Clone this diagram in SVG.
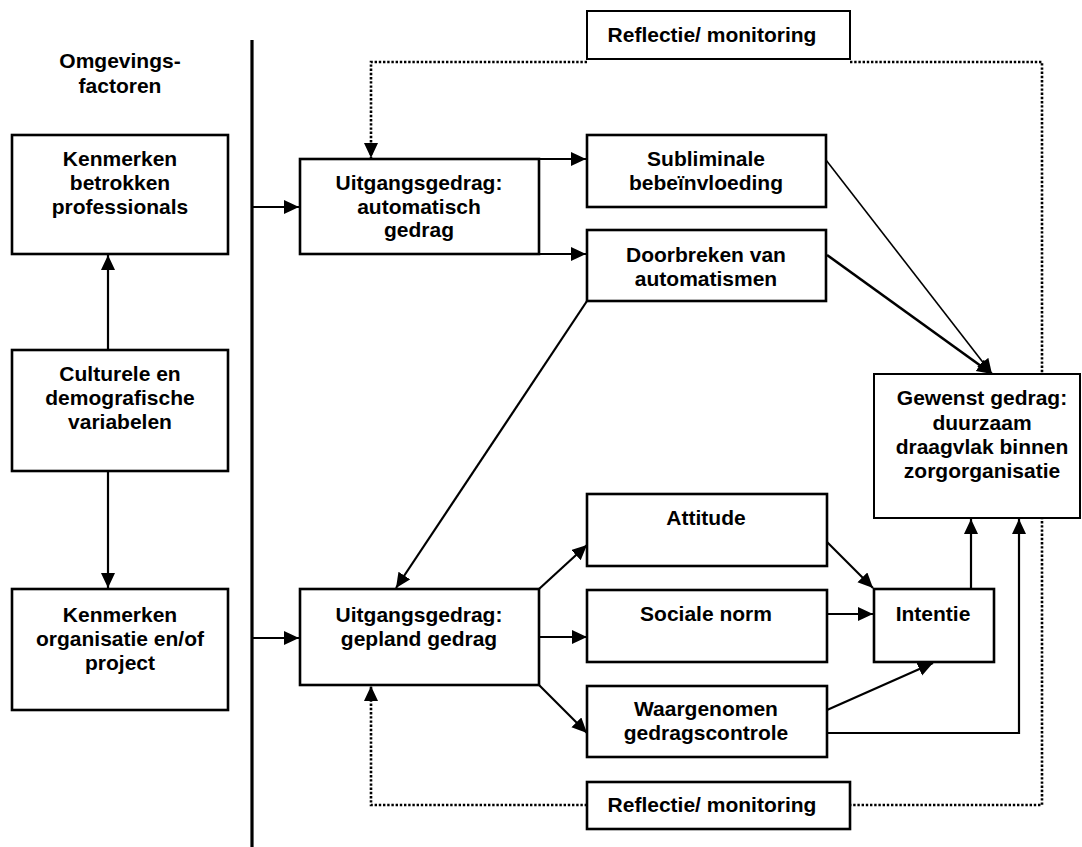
<svg xmlns="http://www.w3.org/2000/svg" width="1082" height="847" viewBox="0 0 1082 847">
<style>
.box{fill:#fff;stroke:#000;stroke-width:2.6}
.thin{fill:#fff;stroke:#000;stroke-width:2}
.t{font-family:"Liberation Sans",Arial,sans-serif;font-weight:bold;font-size:21px;fill:#000;text-anchor:middle}
.c{fill:none;stroke:#000;stroke-width:2.2}
.d{fill:none;stroke:#000;stroke-width:2.6;stroke-dasharray:2.4 1.8}
</style>
<defs>
<marker id="ah" markerUnits="userSpaceOnUse" markerWidth="16" markerHeight="15" refX="15" refY="7" orient="auto">
<path d="M0,0 L15,7 L0,14 z" fill="#000"/>
</marker>
</defs>
<rect width="1082" height="847" fill="#fff"/>
<g id="divider"><line x1="252" y1="40" x2="252" y2="847" stroke="#000" stroke-width="3.2"/></g>
<g id="title"><text class="t" x="120" y="68">Omgevings-</text><text class="t" x="120" y="93">factoren</text></g>
<g id="connectors">
<path class="c" d="M108,350 L108,255" marker-end="url(#ah)"/>
<path class="c" d="M108,471 L108,588" marker-end="url(#ah)"/>
<path class="c" d="M253,207 L299,207" marker-end="url(#ah)"/>
<path class="c" d="M253,638 L299,638" marker-end="url(#ah)"/>
<path class="c" d="M539,159 L586,159" marker-end="url(#ah)"/>
<path class="c" d="M539,254 L586,254" marker-end="url(#ah)"/>
<path fill="none" stroke="#000" stroke-width="1.6" d="M826,160 L992,374" marker-end="url(#ah)"/>
<path fill="none" stroke="#000" stroke-width="2.6" d="M827,255 L992,374" marker-end="url(#ah)"/>
<path class="c" d="M587,301 L396,588" marker-end="url(#ah)"/>
<path class="c" d="M539,589 L587,545" marker-end="url(#ah)"/>
<path class="c" d="M539,637 L587,637" marker-end="url(#ah)"/>
<path class="c" d="M539,685 L587,733" marker-end="url(#ah)"/>
<path class="c" d="M827,542 L873,588" marker-end="url(#ah)"/>
<path class="c" d="M827,614 L873,614" marker-end="url(#ah)"/>
<path class="c" d="M827,710 L933,663" marker-end="url(#ah)"/>
<path class="c" d="M971,589 L971,519" marker-end="url(#ah)"/>
<path class="c" d="M827,733 L1019,733 L1019,519" marker-end="url(#ah)"/>
<path class="d" d="M587,62 L371,62 L371,158" marker-end="url(#ah)"/>
<path class="d" d="M850,62 L1042,62 L1042,805 L850,805"/>
<path class="d" d="M587,805 L371,805 L371,686" marker-end="url(#ah)"/>
</g>
<g id="kenmerken-professionals"><rect class="box" x="12" y="135" width="216" height="119"/>
<text class="t" x="120" y="166">Kenmerken</text><text class="t" x="120" y="190">betrokken</text><text class="t" x="120" y="214">professionals</text></g>
<g id="culturele"><rect class="box" x="12" y="350" width="216" height="121"/>
<text class="t" x="120" y="381">Culturele en</text><text class="t" x="120" y="405">demografische</text><text class="t" x="120" y="429">variabelen</text></g>
<g id="kenmerken-organisatie"><rect class="box" x="12" y="589" width="216" height="121"/>
<text class="t" x="120" y="622">Kenmerken</text><text class="t" x="120" y="646">organisatie en/of</text><text class="t" x="120" y="670">project</text></g>
<g id="automatisch"><rect class="box" x="300" y="159" width="239" height="95"/>
<text class="t" x="419" y="190">Uitgangsgedrag:</text><text class="t" x="419" y="214">automatisch</text><text class="t" x="419" y="237">gedrag</text></g>
<g id="gepland"><rect class="box" x="300" y="589" width="239" height="96"/>
<text class="t" x="419" y="622">Uitgangsgedrag:</text><text class="t" x="419" y="646">gepland gedrag</text></g>
<g id="reflectie-top"><rect class="thin" x="587" y="11" width="263" height="48"/>
<text class="t" x="712" y="42">Reflectie/ monitoring</text></g>
<g id="reflectie-bottom"><rect class="box" x="587" y="782" width="263" height="47"/>
<text class="t" x="712" y="812">Reflectie/ monitoring</text></g>
<g id="subliminale"><rect class="box" x="587" y="135" width="239" height="72"/>
<text class="t" x="706" y="166">Subliminale</text><text class="t" x="706" y="190">bebeïnvloeding</text></g>
<g id="doorbreken"><rect class="box" x="587" y="230" width="239" height="71"/>
<text class="t" x="706" y="262">Doorbreken van</text><text class="t" x="706" y="286">automatismen</text></g>
<g id="attitude"><rect class="box" x="587" y="494" width="240" height="72"/>
<text class="t" x="706" y="525">Attitude</text></g>
<g id="sociale-norm"><rect class="box" x="587" y="590" width="240" height="72"/>
<text class="t" x="706" y="621">Sociale norm</text></g>
<g id="waargenomen"><rect class="box" x="587" y="686" width="240" height="71"/>
<text class="t" x="706" y="716">Waargenomen</text><text class="t" x="706" y="740">gedragscontrole</text></g>
<g id="intentie"><rect class="box" x="874" y="589" width="120" height="73"/>
<text class="t" x="933" y="621">Intentie</text></g>
<g id="gewenst"><rect class="thin" x="874" y="374" width="206" height="144"/>
<text class="t" x="982" y="405">Gewenst gedrag:</text><text class="t" x="982" y="430">duurzaam</text><text class="t" x="982" y="454">draagvlak binnen</text><text class="t" x="982" y="478">zorgorganisatie</text></g>
</svg>
